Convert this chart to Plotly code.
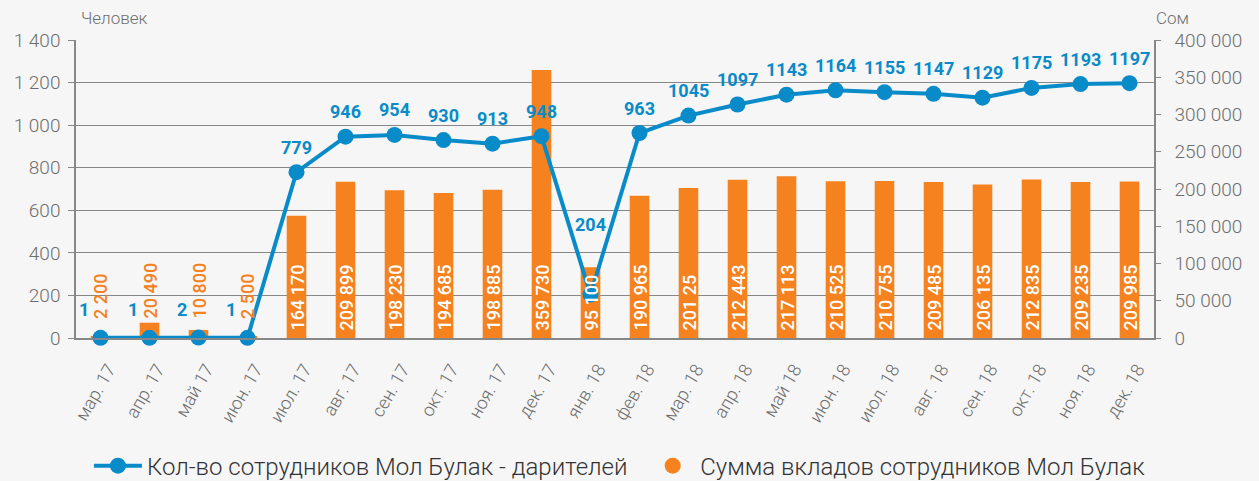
import plotly.graph_objects as go

CATEGORIES = ["мар. 17", "апр. 17", "май 17", "июн. 17", "июл. 17", "авг. 17", "сен. 17",
              "окт. 17", "ноя. 17", "дек. 17", "янв. 18", "фев. 18", "мар. 18", "апр. 18",
              "май 18", "июн. 18", "июл. 18", "авг. 18", "сен. 18", "окт. 18", "ноя. 18", "дек. 18"]
DONORS = [1, 1, 2, 1, 779, 946, 954, 930, 913, 948, 204, 963, 1045, 1097, 1143, 1164,
          1155, 1147, 1129, 1175, 1193, 1197]
DEPOSITS = [2200, 20490, 10800, 2500, 164170, 209899, 198230, 194685, 198885, 359730, 95100,
            190965, 201250, 212443, 217113, 210525, 210755, 209485, 206135, 212835, 209235, 209985]
DEPOSIT_LABELS = ["2 200", "20 490", "10 800", "2 500", "164 170", "209 899", "198 230",
                  "194 685", "198 885", "359 730", "95 100", "190 965", "201 25", "212 443",
                  "217 113", "210 525", "210 755", "209 485", "206 135", "212 835", "209 235",
                  "209 985"]
LEFT_TICKS = [0, 200, 400, 600, 800, 1000, 1200, 1400]
LEFT_TICKTEXT = ["0", "200", "400", "600", "800", "1 000", "1 200", "1 400"]
RIGHT_TICKS = [0, 50000, 100000, 150000, 200000, 250000, 300000, 350000, 400000]
RIGHT_TICKTEXT = ["0", "50 000", "100 000", "150 000", "200 000", "250 000", "300 000",
                  "350 000", "400 000"]

BLUE = "#0a8bc9"
ORANGE = "#f5821f"
GRAY = "#6e6e6e"
AXIS = "#878787"
BG = "#f6f6f6"
FONT = "Roboto"

OUTSIDE_LIMIT = 50000  # bars smaller than this get an orange label on the background

fig = go.Figure()

fig.add_trace(go.Bar(
    x=CATEGORIES, y=DEPOSITS, yaxis="y",
    marker=dict(color=ORANGE, line=dict(width=0)),
    showlegend=False, hoverinfo="skip",
))

fig.add_trace(go.Scatter(
    x=CATEGORIES, y=DONORS, yaxis="y2", mode="lines+markers",
    name="Кол-во сотрудников Мол Булак - дарителей",
    line=dict(color=BLUE, width=4),
    marker=dict(color=BLUE, size=16),
    cliponaxis=False, legend="legend",
))

fig.add_trace(go.Scatter(
    x=[None], y=[None], mode="markers", yaxis="y2",
    name="Сумма вкладов сотрудников Мол Булак",
    marker=dict(color=ORANGE, size=20, symbol="circle"),
    legend="legend2",
))

annotations = []
# bar value labels (rotated, anchored at the bar base)
for c, v, lab in zip(CATEGORIES, DEPOSITS, DEPOSIT_LABELS):
    small = v < OUTSIDE_LIMIT
    annotations.append(dict(
        x=c, y=0, xref="x", yref="y", text=lab, showarrow=False, textangle=-90,
        xanchor="center", yanchor="bottom", yshift=17 if small else 5,
        font=dict(family=FONT, size=18, color=ORANGE if small else "white", weight=500),
    ))

# line value labels
for c, v in zip(CATEGORIES, DONORS):
    xs, ys = 0, 25
    if v < 10:
        xs, ys = -17, 28
    elif v == 204:
        ys = 70
    annotations.append(dict(
        x=c, y=v, xref="x", yref="y2", text=str(v), showarrow=False,
        xshift=xs, yshift=ys, yanchor="middle",
        font=dict(family=FONT, size=18, color=BLUE, weight="bold"),
    ))

annotations.append(dict(x=0.003, y=1.075, xref="paper", yref="paper", text="Человек",
                        showarrow=False, xanchor="left", yanchor="middle",
                        font=dict(family=FONT, size=17, color=GRAY, weight=300)))
annotations.append(dict(x=1.034, y=1.075, xref="paper", yref="paper", text="Сом",
                        showarrow=False, xanchor="right", yanchor="middle",
                        font=dict(family=FONT, size=17, color=GRAY, weight=300)))

legend_common = dict(
    orientation="h", yref="container", y=0.031, xanchor="left", yanchor="middle",
    font=dict(family=FONT, size=24, color="#333333", weight=300),
    bgcolor="rgba(0,0,0,0)",
)

fig.update_layout(
    width=1259, height=481,
    margin=dict(l=76, r=105, t=40, b=143, autoexpand=False),
    paper_bgcolor=BG, plot_bgcolor=BG,
    bargap=0.6,
    font=dict(family=FONT, color=GRAY),
    annotations=annotations,
    xaxis=dict(
        type="category", range=[-0.5, len(CATEGORIES) - 0.5], automargin=False,
        tickangle=-60, showline=True, linecolor=AXIS, linewidth=1.5,
        ticklabelstandoff=12, ticklabelshift=8,
        showgrid=False, ticks="", tickfont=dict(family=FONT, size=18, color=GRAY, weight=300),
    ),
    yaxis=dict(
        side="right", range=[0, 400000], tickvals=RIGHT_TICKS, ticktext=RIGHT_TICKTEXT,
        automargin=False, showgrid=False, zeroline=False, showline=True, linecolor=AXIS,
        linewidth=1.5, ticks="outside", ticklen=5, tickcolor=AXIS, ticklabelstandoff=10,
        tickfont=dict(family=FONT, size=19, color=GRAY, weight=300),
    ),
    yaxis2=dict(
        overlaying="y", side="left", range=[0, 1400], tickvals=LEFT_TICKS, ticktext=LEFT_TICKTEXT,
        automargin=False, showgrid=True, gridcolor=AXIS, gridwidth=1, zeroline=False,
        showline=True, linecolor=AXIS, linewidth=1.5, ticklabelstandoff=4,
        ticks="outside", ticklen=6, tickcolor=AXIS,
        tickfont=dict(family=FONT, size=19, color=GRAY, weight=300),
    ),
    legend=dict(legend_common, x=0.012, itemwidth=48),
    legend2=dict(legend_common, x=0.528, itemwidth=45),
)

fig.write_html(
    "out.html",
    config={"displayModeBar": False},
    post_script="document.body.style.margin='0';document.body.style.background='%s';" % BG,
)
